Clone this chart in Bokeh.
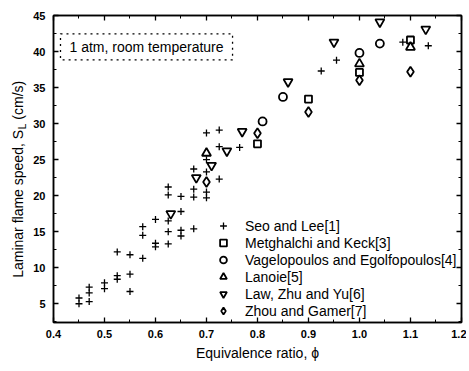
import math
from bokeh.plotting import figure
from bokeh.layouts import row
from bokeh.models import Range1d, LinearAxis, SingleIntervalTicker, Label, Legend, LegendItem, NumeralTickFormatter
from bokeh.core.properties import value
from bokeh.embed import file_html
from bokeh.resources import INLINE

FONT = "Liberation Sans"

# ---- data ----
seo_x = [0.45, 0.45, 0.47, 0.47, 0.47, 0.50, 0.50, 0.525, 0.525, 0.525, 0.55, 0.55, 0.55,
         0.575, 0.575, 0.575, 0.60, 0.60, 0.60, 0.625, 0.625, 0.625, 0.625, 0.625,
         0.65, 0.65, 0.65, 0.65, 0.675, 0.675, 0.675, 0.675, 0.70, 0.70, 0.70, 0.70, 0.70,
         0.725, 0.725, 0.725, 0.765, 0.925, 0.955, 1.085, 1.135]
seo_y = [5.0, 5.8, 5.3, 6.5, 7.3, 7.1, 7.9, 8.4, 8.9, 12.2, 6.7, 9.1, 11.8,
         11.3, 14.5, 15.7, 12.9, 13.4, 16.7, 13.3, 15.0, 16.5, 20.1, 21.2,
         14.4, 15.2, 17.8, 19.9, 15.4, 19.8, 20.9, 23.7, 19.7, 20.5, 23.3, 25.0, 28.7,
         22.3, 26.8, 29.1, 26.7, 37.3, 38.8, 41.3, 40.8]

metg_x = [0.80, 0.90, 1.00, 1.10]
metg_y = [27.2, 33.4, 37.1, 41.6]

vage_x = [0.81, 0.85, 1.00, 1.04]
vage_y = [30.3, 33.7, 39.8, 41.1]

lano_x = [0.70, 1.00, 1.10]
lano_y = [25.9, 38.3, 40.6]

law_x = [0.63, 0.68, 0.71, 0.74, 0.77, 0.86, 0.95, 1.04, 1.13]
law_y = [17.5, 22.5, 24.2, 26.2, 28.9, 35.8, 41.3, 44.1, 43.1]

zhou_x = [0.70, 0.80, 0.90, 1.00, 1.10]
zhou_y = [21.9, 28.65, 31.6, 36.0, 37.2]

series_names = ["Seo and Lee[1]", "Metghalchi and Keck[3]", "Vagelopoulos and Egolfopoulos[4]",
                "Lanoie[5]", "Law, Zhu and Yu[6]", "Zhou and Gamer[7]"]

y_title_parts = ["Laminar flame speed, S", "L", "(cm/s)"]

H = 368
TOP = 15
BOTTOM = 46
yr = Range1d(2.4, 45)

p = figure(width=438, height=H, output_backend="svg", toolbar_location=None,
           x_range=Range1d(0.4, 1.2001), y_range=yr,
           min_border_left=25, min_border_right=5, min_border_top=TOP, min_border_bottom=BOTTOM)
p.background_fill_color = "white"
p.border_fill_color = "white"
p.outline_line_color = "black"
p.outline_line_width = 1.5
p.xgrid.visible = False
p.ygrid.visible = False

p.xaxis.ticker = SingleIntervalTicker(interval=0.1, num_minor_ticks=2)
p.yaxis.ticker = SingleIntervalTicker(interval=5, num_minor_ticks=2)
p.xaxis.formatter = NumeralTickFormatter(format="0.0")


def style_axis(ax, labels=True):
    ax.axis_line_color = "black"
    ax.axis_line_width = 1.5
    ax.major_tick_in = 5
    ax.major_tick_out = 0
    ax.minor_tick_in = 3
    ax.minor_tick_out = 0
    ax.major_tick_line_width = 1.3
    ax.minor_tick_line_width = 1.0
    ax.major_tick_line_color = "black"
    ax.minor_tick_line_color = "black"
    if labels:
        ax.major_label_text_font = FONT
        ax.major_label_text_font_style = "bold"
        ax.major_label_text_font_size = "11px"
        ax.major_label_text_color = "black"
    else:
        ax.major_label_text_color = None
        ax.major_label_text_font_size = "1px"
        ax.major_label_standoff = 0


style_axis(p.xaxis[0])
style_axis(p.yaxis[0])
p.xaxis.major_label_standoff = 7
p.yaxis.major_label_standoff = 8

p.xaxis.axis_label = "Equivalence ratio, \u03d5"
p.xaxis.axis_label_text_font = FONT
p.xaxis.axis_label_text_font_style = "normal"
p.xaxis.axis_label_text_font_size = "14px"
p.xaxis.axis_label_text_color = "black"
p.xaxis.axis_label_standoff = 4

top = LinearAxis(ticker=SingleIntervalTicker(interval=0.1, num_minor_ticks=2))
right = LinearAxis(ticker=SingleIntervalTicker(interval=5, num_minor_ticks=2))
style_axis(top, labels=False)
style_axis(right, labels=False)
p.add_layout(top, "above")
p.add_layout(right, "right")

r_seo = p.scatter(seo_x, seo_y, marker="cross", size=7, line_color="black", line_width=1.3)
r_metg = p.scatter(metg_x, metg_y, marker="square", size=7, line_color="black", fill_color="white", line_width=1.8)
r_vage = p.scatter(vage_x, vage_y, marker="circle", size=8, line_color="black", fill_color="white", line_width=1.8)
r_lano = p.scatter(lano_x, lano_y, marker="triangle", size=9, line_color="black", fill_color="white", line_width=1.8)
r_law = p.scatter(law_x, law_y, marker="inverted_triangle", size=9, line_color="black", fill_color="white", line_width=1.8)
r_zhou = p.scatter(zhou_x, zhou_y, marker="diamond", size=10, line_color="black", fill_color="white", line_width=1.8)

renderers = [r_seo, r_metg, r_vage, r_lano, r_law, r_zhou]
legend = Legend(items=[LegendItem(label=n, renderers=[r]) for n, r in zip(series_names, renderers)],
                location=(160, 3), orientation="vertical")
legend.label_text_font = FONT
legend.label_text_font_size = "14px"
legend.label_text_color = "black"
legend.glyph_width = 20
legend.glyph_height = 17
legend.label_height = 17
legend.spacing = 0
legend.padding = 0
legend.margin = 0
legend.label_standoff = 12
legend.border_line_color = None
legend.background_fill_alpha = 0
p.add_layout(legend, "center")

p.add_layout(Label(x=0.4137, y=42.46, text="1 atm, room temperature", text_align="left",
                   text_baseline="top", text_font=FONT, text_font_size="14px", text_color="black",
                   border_line_color="black", border_line_dash="dotted", border_line_width=1.3,
                   background_fill_color="white", padding=(9, 5)))

# narrow side figure holding the rotated y-axis title (with subscript L)
q = figure(width=28, height=H, output_backend="svg", toolbar_location=None,
           x_range=Range1d(0, 1), y_range=yr, x_axis_location=None, y_axis_location=None,
           min_border_left=0, min_border_right=0, min_border_top=TOP, min_border_bottom=BOTTOM)
q.outline_line_color = None
q.xgrid.visible = False
q.ygrid.visible = False
q.background_fill_color = "white"
q.border_fill_color = "white"
q.text(x=[0.64], y=[8.6], text=[y_title_parts[0]], angle=math.pi / 2, text_align="left",
       text_baseline="middle", text_font=value(FONT), text_font_size="14px", text_color="black")
q.text(x=[0.79], y=[29.2], text=[y_title_parts[1]], angle=math.pi / 2, text_align="left",
       text_baseline="middle", text_font=value(FONT), text_font_size="10px", text_color="black")
q.text(x=[0.64], y=[30.55], text=[y_title_parts[2]], angle=math.pi / 2, text_align="left",
       text_baseline="middle", text_font=value(FONT), text_font_size="14px", text_color="black")

layout = row(q, p, spacing=0)
open("out.html", "w").write(file_html(layout, INLINE))
